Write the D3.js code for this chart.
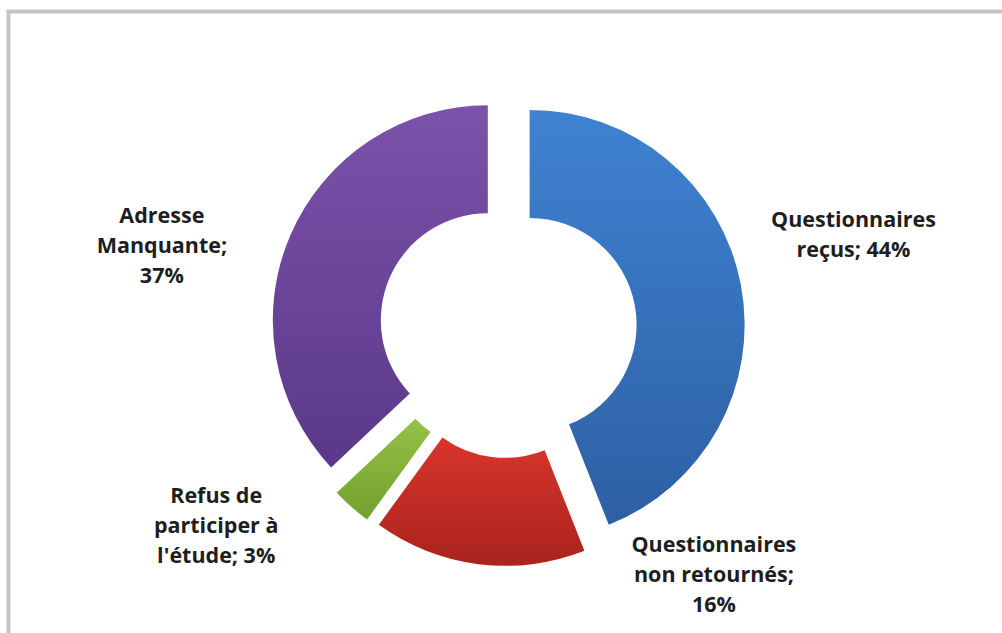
<!DOCTYPE html>
<html>
<head>
<meta charset="utf-8">
<script src="https://cdn.jsdelivr.net/npm/d3@7"></script>
<style>
  html, body { margin: 0; padding: 0; background: #ffffff; }
  svg { display: block; }
</style>
</head>
<body>
<svg id="chart" width="1002" height="633"></svg>
<script>
// ---- data ----
const categories = ["Questionnaires reçus", "Questionnaires non retournés", "Refus de participer à l'étude", "Adresse Manquante"];
const values = [44, 16, 3, 37];
const labelLines = [
  ["Questionnaires", "reçus; 44%"],
  ["Questionnaires", "non retournés;", "16%"],
  ["Refus de", "participer à", "l'étude; 3%"],
  ["Adresse", "Manquante;", "37%"]
];

// ---- styles / layout ----
const colorsTop = ["#3f82d2", "#d9352c", "#94c245", "#7c52ab"];
const colorsBottom = ["#2d60a3", "#a9231d", "#73a030", "#5a3889"];
const labelPolar = [ // [angle in degrees, radius] of label block centre
  [74.8, 358], [140.1, 321], [236.0, 352], [283.5, 356]
];

const W = 1002, H = 633;
const cx = 508, cy = 329;
const outerR = 215, innerR = 107, explode = 22;
const lineH = 30;

const svg = d3.select("#chart");

// frame
svg.append("rect")
  .attr("x", 8.5).attr("y", 11.5)
  .attr("width", 1200).attr("height", 800)
  .attr("fill", "none")
  .attr("stroke", "#c4c4c4")
  .attr("stroke-width", 4);

const defs = svg.append("defs");
categories.forEach((c, i) => {
  const g = defs.append("linearGradient")
    .attr("id", "grad" + i)
    .attr("x1", 0).attr("y1", 0).attr("x2", 0).attr("y2", 1);
  g.append("stop").attr("offset", "0%").attr("stop-color", colorsTop[i]);
  g.append("stop").attr("offset", "100%").attr("stop-color", colorsBottom[i]);
});

const pie = d3.pie().sort(null).value(d => d.value).startAngle(0).endAngle(2 * Math.PI);
const arc = d3.arc().innerRadius(innerR).outerRadius(outerR);

const data = categories.map((c, i) => ({ name: c, value: values[i], i }));
const arcs = pie(data);

const root = svg.append("g").attr("transform", `translate(${cx},${cy})`);

root.selectAll("path.slice")
  .data(arcs)
  .join("path")
  .attr("class", "slice")
  .attr("d", arc)
  .attr("fill", d => `url(#grad${d.data.i})`)
  .attr("transform", d => {
    const a = (d.startAngle + d.endAngle) / 2;
    return `translate(${explode * Math.sin(a)},${-explode * Math.cos(a)})`;
  });

// labels
const labels = root.selectAll("text.lbl")
  .data(arcs)
  .join("text")
  .attr("class", "lbl")
  .attr("text-anchor", "middle")
  .attr("font-family", "'Open Sans', 'Noto Sans', sans-serif")
  .attr("font-weight", 700)
  .attr("font-size", 21.5)
  .attr("fill", "#1e1e1e");

labels.each(function(d) {
  const i = d.data.i;
  const lines = labelLines[i];
  const a = labelPolar[i][0] * Math.PI / 180;
  const r = labelPolar[i][1];
  const x = r * Math.sin(a);
  const yc = -r * Math.cos(a);
  const y0 = yc - (lines.length - 1) * lineH / 2 + 7;
  d3.select(this).selectAll("tspan")
    .data(lines)
    .join("tspan")
    .attr("x", x)
    .attr("y", (t, k) => y0 + k * lineH)
    .text(t => t);
});
</script>
</body>
</html>
